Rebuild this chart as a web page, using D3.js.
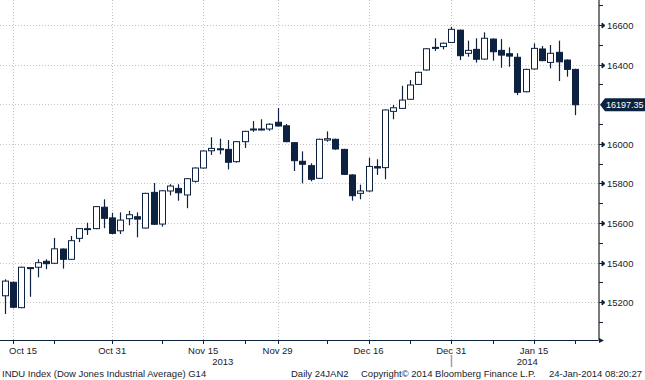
<!DOCTYPE html>
<html>
<head>
<meta charset="utf-8">
<script src="https://cdn.jsdelivr.net/npm/d3@7"></script>
<style>
  body { margin: 0; background: #fff; }
  svg { display: block; font-family: "Liberation Sans", "DejaVu Sans", sans-serif; }
</style>
</head>
<body>
<div id="chart"></div>
<script>
// trading days, Oct 14 2013 .. Jan 23 2014
const dates = [
  "2013-10-14","2013-10-15","2013-10-16","2013-10-17","2013-10-18",
  "2013-10-21","2013-10-22","2013-10-23","2013-10-24","2013-10-25",
  "2013-10-28","2013-10-29","2013-10-30","2013-10-31","2013-11-01",
  "2013-11-04","2013-11-05","2013-11-06","2013-11-07","2013-11-08",
  "2013-11-11","2013-11-12","2013-11-13","2013-11-14","2013-11-15",
  "2013-11-18","2013-11-19","2013-11-20","2013-11-21","2013-11-22",
  "2013-11-25","2013-11-26","2013-11-27","2013-11-29",
  "2013-12-02","2013-12-03","2013-12-04","2013-12-05","2013-12-06",
  "2013-12-09","2013-12-10","2013-12-11","2013-12-12","2013-12-13",
  "2013-12-16","2013-12-17","2013-12-18","2013-12-19","2013-12-20",
  "2013-12-23","2013-12-24","2013-12-26","2013-12-27",
  "2013-12-30","2013-12-31","2014-01-02","2014-01-03",
  "2014-01-06","2014-01-07","2014-01-08","2014-01-09","2014-01-10",
  "2014-01-13","2014-01-14","2014-01-15","2014-01-16","2014-01-17",
  "2014-01-21","2014-01-22","2014-01-23"
];
const open = [
  15233,15301,15173,15375,15377, 15407,15397,15469,15417,15523,
  15570,15572,15680,15626,15561, 15622,15632,15575,15755,15595,
  15762,15775,15742,15811,15878, 15965,15975,15972,15910,16011,
  16073,16075,16075,16109, 16091,16006,15912,15890,15826,
  16019,16023,15972,15843,15750, 15762,15885,15880,16164,16179,
  16225,16300,16373,16487, 16491,16512,16574,16457,
  16477,16428,16529,16472,16455, 16437,16263,16378,16479,16411,
  16462,16423,16376
];
const high = [
  15316,15305,15380,15378,15417, 15417,15525,15472,15535,15575,
  15602,15686,15720,15652,15654, 15662,15654,15753,15802,15766,
  15796,15796,15827,15881,15967, 16033,16026,16019,16014,16066,
  16115,16124,16104,16181, 16100,16008,15962,15902,16026,
  16063,16026,15975,15846,15794, 15930,15922,16174,16196,16293,
  16322,16364,16483,16533, 16511,16591,16577,16521,
  16533,16563,16532,16529,16487, 16457,16379,16507,16494,16499,
  16521,16426,16379
];
const low = [
  15141,15170,15170,15228,15326, 15367,15393,15370,15414,15504,
  15540,15569,15574,15544,15545, 15589,15528,15572,15590,15582,
  15740,15713,15675,15804,15875, 15944,15947,15871,15905,15979,
  16061,16068,16066,16088, 16008,15863,15801,15811,15823,
  16011,15970,15843,15713,15720, 15758,15843,15821,16124,16176,
  16222,16297,16370,16469, 16477,16509,16423,16440,
  16410,16425,16420,16384,16389, 16246,16260,16375,16417,16381,
  16317,16339,16145
];
const close = [
  15307,15175,15377,15373,15400, 15395,15470,15417,15511,15572,
  15572,15683,15624,15548,15615, 15642,15620,15750,15594,15763,
  15787,15753,15824,15878,15964, 15977,15970,15907,16011,16063,
  16075,16073,16099,16090, 16011,15915,15897,15821,16023,
  16026,15974,15846,15738,15762, 15886,15878,16171,16182,16221,
  16297,16361,16480,16485, 16508,16578,16445,16472,
  16427,16533,16465,16448,16443, 16260,16376,16482,16420,16457,
  16414,16376,16197.35
];

const labelDates = ["2013-10-15","2013-10-31","2013-11-15","2013-11-29","2013-12-16","2013-12-31","2014-01-15"];
const labelText = ["Oct 15","Oct 31","Nov 15","Nov 29","Dec 16","Dec 31","Jan 15"];
const minorDates = ["2013-10-22","2013-11-08","2013-11-22","2013-12-09","2013-12-23","2014-01-08","2014-01-23"];
const yearDivide = "2013-12-31";
const yearLabels = ["2013","2014"];
const yTicks = [15200,15400,15600,15800,16000,16200,16400,16600];
const yMinor = [15100,15300,15500,15700,15900,16100,16300,16500,16700];

const footer = [
  {x: 2, t: "INDU Index (Dow Jones Industrial Average) G14"},
  {x: 291, t: "Daily 24JAN2"},
  {x: 361, t: "Copyright\u00a9 2014 Bloomberg Finance L.P."},
  {x: 549, t: "24-Jan-2014 08:20:27"}
];

const W = 645, H = 380;
const plotRight = 599, plotBottom = 340;
const NAVY = "#0d2240";
const GRID = "#c4c4c4";

const svg = d3.select("#chart").append("svg")
  .attr("width", W).attr("height", H);

const x = d3.scalePoint().domain(dates).range([4.7, 575.3]);
const y = d3.scaleLinear().domain([15200, 16600]).range([302.3, 25]);

svg.append("clipPath").attr("id", "plot-clip")
  .append("rect").attr("x", 0).attr("y", 0).attr("width", plotRight - 1).attr("height", plotBottom);

// grid
const grid = svg.append("g");
grid.selectAll("line.h").data(yTicks).enter().append("line")
  .attr("x1", 0).attr("x2", plotRight - 1)
  .attr("y1", d => Math.round(y(d)) + 0.5).attr("y2", d => Math.round(y(d)) + 0.5)
  .attr("stroke", GRID).attr("stroke-dasharray", "1,2");
grid.selectAll("line.v").data(labelDates).enter().append("line")
  .attr("x1", d => Math.round(x(d)) + 0.5).attr("x2", d => Math.round(x(d)) + 0.5)
  .attr("y1", 0).attr("y2", plotBottom)
  .attr("stroke", GRID).attr("stroke-dasharray", "1,2");

// candles
const bodyW = 6;
const candles = svg.append("g").attr("clip-path", "url(#plot-clip)")
  .selectAll("g").data(dates.map((d, i) => ({d, o: open[i], h: high[i], l: low[i], c: close[i]})))
  .enter().append("g");

candles.append("line")
  .attr("x1", d => Math.round(x(d.d)) + 0.5).attr("x2", d => Math.round(x(d.d)) + 0.5)
  .attr("y1", d => y(d.h)).attr("y2", d => y(d.l))
  .attr("stroke", NAVY).attr("stroke-width", 1.2);

candles.append("rect")
  .attr("x", d => Math.round(x(d.d)) + 0.5 - bodyW / 2)
  .attr("y", d => y(Math.max(d.o, d.c)))
  .attr("width", bodyW)
  .attr("height", d => Math.max(1, y(Math.min(d.o, d.c)) - y(Math.max(d.o, d.c))))
  .attr("fill", d => d.c >= d.o ? "#fff" : NAVY)
  .attr("stroke", NAVY).attr("stroke-width", 1);

// x axis
const xa = svg.append("g");
xa.append("line").attr("x1", 0).attr("x2", plotRight + 1)
  .attr("y1", plotBottom + 0.5).attr("y2", plotBottom + 0.5)
  .attr("stroke", NAVY);
xa.selectAll("line.t").data(labelDates.concat(minorDates)).enter().append("line")
  .attr("x1", d => Math.round(x(d)) + 0.5).attr("x2", d => Math.round(x(d)) + 0.5)
  .attr("y1", plotBottom).attr("y2", plotBottom + 4)
  .attr("stroke", NAVY);
xa.selectAll("text.lab").data(labelDates).enter().append("text")
  .attr("x", d => x(d)).attr("y", 354)
  .attr("text-anchor", "middle").attr("font-size", "9.5px").attr("fill", "#1a1a2a")
  .text((d, i) => labelText[i])
  .each(function () {
    // keep the first label inside the left edge
    const half = this.getComputedTextLength() / 2;
    const cx = +this.getAttribute("x");
    if (cx - half < 9) this.setAttribute("x", 9 + half);
  });

const divX = Math.round(x(yearDivide)) + 0.5;
xa.append("line").attr("x1", divX).attr("x2", divX)
  .attr("y1", 355).attr("y2", 367)
  .attr("stroke", "#a0a0a0").attr("stroke-width", 1.5);
xa.selectAll("text.yr").data(yearLabels).enter().append("text")
  .attr("x", (d, i) => i === 0 ? divX / 2 - 3 : (divX + plotRight) / 2 + 2)
  .attr("y", 365)
  .attr("text-anchor", "middle").attr("font-size", "9.5px").attr("fill", "#1a1a2a")
  .text(d => d);

// right axis
const last = close[close.length - 1];
const ly = y(last);
const ya = svg.append("g");
ya.append("line").attr("x1", plotRight).attr("x2", plotRight)
  .attr("y1", 0).attr("y2", plotBottom + 1)
  .attr("stroke", "#7a7a7a").attr("stroke-width", 2);
ya.append("path")
  .attr("d", `M${plotRight},${plotBottom - 2}L${plotRight + 5},${plotBottom + 0.5}L${plotRight},${plotBottom + 3}Z`)
  .attr("fill", NAVY);
ya.selectAll("line.mn").data(yMinor.filter(d => Math.abs(y(d) - ly) > 8)).enter().append("line")
  .attr("x1", plotRight).attr("x2", plotRight + 4)
  .attr("y1", d => Math.round(y(d)) + 0.5).attr("y2", d => Math.round(y(d)) + 0.5)
  .attr("stroke", NAVY);
// the last-price tag hides the major tick it sits on
const major = ya.selectAll("g.mj").data(yTicks.filter(d => Math.abs(y(d) - ly) > 8)).enter().append("g")
  .attr("transform", d => `translate(${plotRight},${Math.round(y(d)) + 0.5})`);
major.append("path").attr("d", "M0,0H3M3,-2.5L6,0L3,2.5Z")
  .attr("stroke", NAVY).attr("fill", NAVY).attr("stroke-width", 1);
major.append("text").attr("x", 8).attr("dy", "0.35em")
  .attr("font-size", "9.5px").attr("fill", "#1a1a2a")
  .text(d => d);

// last price tag
ya.append("path")
  .attr("d", `M${plotRight + 1},${ly}L${plotRight + 6},${ly - 6.5}H${W}V${ly + 6.5}H${plotRight + 6}Z`)
  .attr("fill", NAVY);
ya.append("text").attr("x", plotRight + 7).attr("y", ly).attr("dy", "0.35em")
  .attr("font-size", "9px").attr("fill", "#fff")
  .text(d3.format(".2f")(last));

// footer
svg.append("g").selectAll("text").data(footer).enter().append("text")
  .attr("x", d => d.x).attr("y", 377)
  .attr("font-size", "9.5px").attr("fill", "#1a1a2a")
  .text(d => d.t);
</script>
</body>
</html>
